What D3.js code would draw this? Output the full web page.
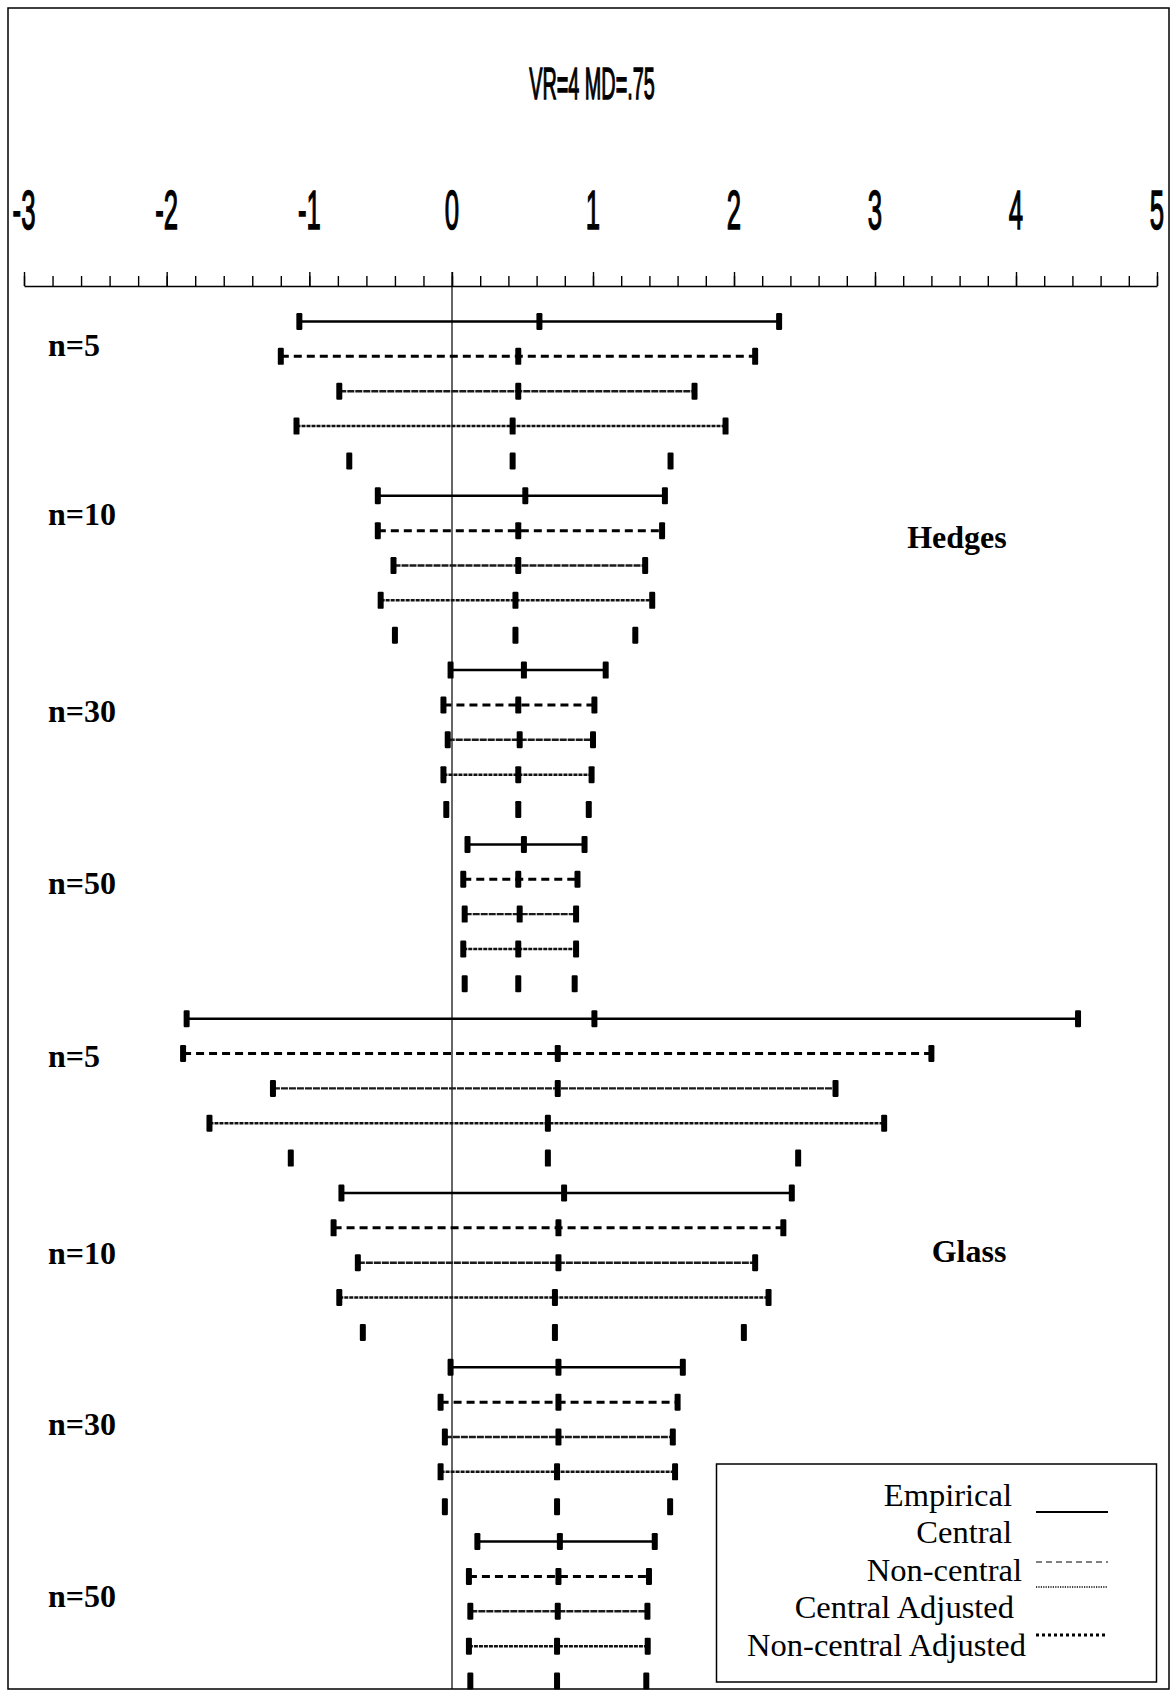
<!DOCTYPE html>
<html>
<head>
<meta charset="utf-8">
<script src="https://cdn.jsdelivr.net/npm/d3@7"></script>
<style>
  body { margin: 0; background: #fff; }
  svg { display: block; }
</style>
</head>
<body>
<script>
// values (effect size, lower / estimate / upper)
const methods = ["Hedges", "Glass"];
const sampleSizes = ["n=5", "n=10", "n=30", "n=50"];
const intervalTypes = ["Empirical", "Central", "Non-central", "Central Adjusted", "Non-central Adjusted"];
const axisTicks = [-3, -2, -1, 0, 1, 2, 3, 4, 5];

const hedgesLow  = [-1.07, -1.20, -0.79, -1.09, -0.72,  -0.52, -0.52, -0.41, -0.50, -0.40,  -0.01, -0.06, -0.03, -0.06, -0.04,  0.11, 0.08, 0.09, 0.08, 0.09];
const hedgesMid  = [0.62, 0.47, 0.47, 0.43, 0.43,  0.52, 0.47, 0.47, 0.45, 0.45,  0.51, 0.47, 0.48, 0.47, 0.47,  0.51, 0.47, 0.48, 0.47, 0.47];
const hedgesHigh = [2.32, 2.15, 1.72, 1.94, 1.55,  1.51, 1.49, 1.37, 1.42, 1.30,  1.09, 1.01, 1.00, 0.99, 0.97,  0.94, 0.89, 0.88, 0.88, 0.87];

const glassLow  = [-1.86, -1.885, -1.255, -1.70, -1.13,  -0.775, -0.83, -0.66, -0.79, -0.625,  -0.01, -0.08, -0.05, -0.08, -0.05,  0.18, 0.12, 0.13, 0.12, 0.13];
const glassMid  = [1.01, 0.75, 0.75, 0.68, 0.68,  0.795, 0.755, 0.755, 0.73, 0.73,  0.755, 0.755, 0.755, 0.745, 0.745,  0.765, 0.755, 0.75, 0.745, 0.745];
const glassHigh = [4.44, 3.40, 2.72, 3.065, 2.455,  2.41, 2.35, 2.15, 2.245, 2.07,  1.637, 1.60, 1.566, 1.582, 1.547,  1.438, 1.397, 1.386, 1.388, 1.378];

// layout only: where each n= label sits, in rows from the first row of its block
const labelOffset = [0.7, 0.55, 1.2, 1.15, 1.1, 1.75, 1.65, 1.6];

let svg, x, yRow, rows;
const w = 1171, h = 1697;
const axisY = 286;
const serif = "'Liberation Serif', 'Times New Roman', serif";
const sans = "'Liberation Sans', Arial, sans-serif";

// line look for each of the 5 rows of a block
const rowStyles = [
  { width: 2.5, dash: null, color: "#000" },
  { width: 3, dash: "8,5", color: "#000" },
  { width: 2.4, dash: "7,1", color: "#1a1a1a" },
  { width: 2.5, dash: "4,1", color: "#111" },
  null
];

const init = () => {
  rows = [];
  const lows = [hedgesLow, glassLow], mids = [hedgesMid, glassMid], highs = [hedgesHigh, glassHigh];
  methods.forEach((m, mi) => {
    lows[mi].forEach((lo, i) => {
      rows.push({
        method: m,
        n: sampleSizes[Math.floor(i / 5)],
        type: intervalTypes[i % 5],
        style: i % 5,
        low: lo,
        mid: mids[mi][i],
        high: highs[mi][i]
      });
    });
  });

  createSvg();
  createScales();
  createFrame();
  createAxis();
  createIntervals();
  createLabels();
  createLegend();
}

const createSvg = () => {
  svg = d3.select("body")
    .append("svg")
    .attr("width", w)
    .attr("height", h);
}

const createScales = () => {
  x = d3.scaleLinear()
    .domain([-3, 0, 5])
    .range([24, 452, 1157]);

  yRow = d3.scaleLinear()
    .domain([0, rows.length - 1])
    .range([321.5, 1681]);
}

const createFrame = () => {
  svg.append("rect")
    .attr("x", 8)
    .attr("y", 8)
    .attr("width", 1161)
    .attr("height", 1681)
    .attr("fill", "none")
    .attr("stroke", "#000")
    .attr("stroke-width", 1.5);

  svg.append("text")
    .attr("transform", `translate(592, 99) scale(0.44, 1)`)
    .attr("text-anchor", "middle")
    .style("font-family", sans)
    .style("font-size", "45px")
    .style("stroke", "#000")
    .style("stroke-width", 1.4)
    .text("VR=4 MD=.75");
}

const createAxis = () => {
  const minor = d3.range(-3, 5.0001, 0.2).map(d => +d.toFixed(1));

  svg.append("g")
    .attr("transform", `translate(0, ${axisY})`)
    .call(d3.axisTop(x).tickValues(minor).tickSize(10).tickSizeOuter(0).tickFormat(""))
    .call(g => g.selectAll("line, path").attr("stroke", "#000").attr("stroke-width", 1.4));

  svg.append("g")
    .attr("transform", `translate(0, ${axisY})`)
    .call(d3.axisTop(x).tickValues(axisTicks).tickSize(14).tickSizeOuter(0).tickFormat(""))
    .call(g => g.select(".domain").remove())
    .call(g => g.selectAll("line").attr("stroke", "#000").attr("stroke-width", 1.4));

  svg.selectAll(".tick-label")
    .data(axisTicks)
    .join("text")
    .attr("class", "tick-label")
    .attr("transform", d => `translate(${x(d)}, 229) scale(0.46, 1)`)
    .attr("text-anchor", "middle")
    .style("font-family", sans)
    .style("font-size", "56px")
    .style("stroke", "#000")
    .style("stroke-width", 1.5)
    .text(d => d);

  // zero reference line
  svg.append("line")
    .attr("x1", x(0))
    .attr("x2", x(0))
    .attr("y1", axisY - 14)
    .attr("y2", 1689)
    .attr("stroke", "#000")
    .attr("stroke-width", 1.2);
}

const createIntervals = () => {
  const g = svg.append("g");

  g.selectAll(".ci-line")
    .data(rows.filter(d => rowStyles[d.style]))
    .join("line")
    .attr("class", "ci-line")
    .attr("x1", d => x(d.low))
    .attr("x2", d => x(d.high))
    .attr("y1", d => yRow(rows.indexOf(d)))
    .attr("y2", d => yRow(rows.indexOf(d)))
    .attr("stroke", d => rowStyles[d.style].color)
    .attr("stroke-width", d => rowStyles[d.style].width)
    .attr("stroke-dasharray", d => rowStyles[d.style].dash);

  const marks = [];
  rows.forEach((d, i) => {
    ["low", "mid", "high"].forEach(k => marks.push({ v: d[k], i: i }));
  });

  g.selectAll(".ci-mark")
    .data(marks)
    .join("rect")
    .attr("class", "ci-mark")
    .attr("x", d => x(d.v) - 3)
    .attr("y", d => yRow(d.i) - 8.5)
    .attr("width", 6)
    .attr("height", 17)
    .attr("rx", 1.2)
    .attr("fill", "#000");
}

const createLabels = () => {
  const labels = [];
  methods.forEach((m, mi) => {
    sampleSizes.forEach((n, ni) => {
      labels.push({ text: n, row: mi * 20 + ni * 5 + labelOffset[mi * 4 + ni] });
    });
  });

  svg.selectAll(".n-label")
    .data(labels)
    .join("text")
    .attr("class", "n-label")
    .attr("x", 48)
    .attr("y", d => yRow(d.row) + 10)
    .style("font-family", serif)
    .style("font-weight", "bold")
    .style("font-size", "32px")
    .text(d => d.text);

  svg.selectAll(".method-label")
    .data(methods)
    .join("text")
    .attr("class", "method-label")
    .attr("x", (d, i) => i === 0 ? 957 : 969)
    .attr("y", (d, i) => yRow(i * 20 + (i === 0 ? 6.2 : 6.7)) + 10)
    .attr("text-anchor", "middle")
    .style("font-family", serif)
    .style("font-weight", "bold")
    .style("font-size", "32px")
    .text(d => d);
}

const createLegend = () => {
  const legend = svg.append("g");

  legend.append("rect")
    .attr("x", 716.5)
    .attr("y", 1464)
    .attr("width", 440)
    .attr("height", 218)
    .attr("fill", "#fff")
    .attr("stroke", "#000")
    .attr("stroke-width", 1.5);

  const rightEdge = [1012, 1012, 1022, 1014, 1026];

  legend.selectAll("text")
    .data(intervalTypes)
    .join("text")
    .attr("x", (d, i) => rightEdge[i])
    .attr("y", (d, i) => 1506 + i * 37.4)
    .attr("text-anchor", "end")
    .style("font-family", serif)
    .style("font-size", "32.5px")
    .text(d => d);

  const samples = [
    { y: 1512, width: 2.2, dash: null },
    { y: 1562, width: 1, dash: "6,4" },
    { y: 1587, width: 1.5, dash: "1.2,1.2" },
    { y: 1635, width: 3, dash: "3,3" }
  ];

  legend.selectAll("line")
    .data(samples)
    .join("line")
    .attr("x1", 1036)
    .attr("x2", 1108)
    .attr("y1", d => d.y)
    .attr("y2", d => d.y)
    .attr("stroke", "#000")
    .attr("stroke-width", d => d.width)
    .attr("stroke-dasharray", d => d.dash);
}

init();
</script>
</body>
</html>
